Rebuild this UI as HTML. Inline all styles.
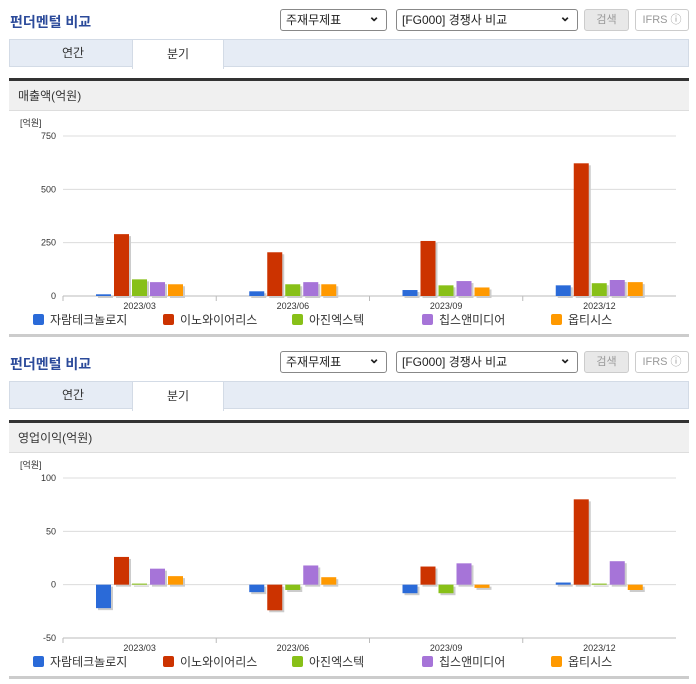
<!DOCTYPE html>
<html><head><meta charset="utf-8">
<style>
body{margin:0;width:696px;height:684px;background:#fff;font-family:"Liberation Sans","Noto Sans CJK KR",sans-serif;overflow:hidden;position:relative}
.blk{position:absolute;left:0;width:696px;height:342px}
.title{position:absolute;left:10px;top:12px;font-size:14px;color:#2b4a9a;font-weight:bold}
.sel{position:absolute;top:9px;height:22px;border:1px solid #888;border-radius:3px;box-sizing:border-box;font-size:12px;line-height:20px;padding-left:5px;color:#222;background:#fff}
.sel:after{content:"⌄";position:absolute;right:6px;top:-4px;font-size:14px;font-weight:bold}
.btn{position:absolute;top:9px;height:22px;box-sizing:border-box;border:1px solid #ccc;border-radius:3px;font-size:11px;line-height:20px;text-align:center;color:#999}
.tabs{position:absolute;left:9px;top:39px;width:680px;height:28px;background:#e6ecf5;border:1px solid #d3dbe6;box-sizing:border-box}
.tab{position:absolute;top:-1px;height:29px;width:90px;text-align:center;font-size:12px;line-height:28px;color:#333}
.bar1{position:absolute;left:9px;top:78px;width:680px;height:3px;background:#333}
.hdr{position:absolute;left:9px;top:81px;width:680px;height:30px;background:#f0f0f0;border-bottom:1px solid #ddd;font-size:12px;line-height:30px;padding-left:9px;box-sizing:border-box;color:#333}
.bot{position:absolute;left:9px;top:334px;width:680px;height:3px;background:#ccc}
svg{position:absolute;left:0;top:0}
</style></head><body>
<div class="blk" style="top:0">
 <div class="title">펀더멘털 비교</div>
 <div class="sel" style="left:280px;width:107px">주재무제표</div>
 <div class="sel" style="left:396px;width:182px">[FG000] 경쟁사 비교</div>
 <div class="btn" style="left:584px;width:45px;background:#e8e8e8">검색</div>
 <div class="btn" style="left:635px;width:54px;background:#fff">IFRS ⓘ</div>
 <div class="tabs">
  <div class="tab" style="left:18px">연간</div>
  <div class="tab" style="left:122px;background:#fff;border:1px solid #d3dbe6;border-bottom:none">분기</div>
 </div>
 <div class="bar1"></div>
 <div class="hdr">매출액(억원)</div>
 <svg id="c1" width="696" height="342"></svg>
 <div class="bot"></div>
</div>
<div class="blk" style="top:342px">
 <div class="title">펀더멘털 비교</div>
 <div class="sel" style="left:280px;width:107px">주재무제표</div>
 <div class="sel" style="left:396px;width:182px">[FG000] 경쟁사 비교</div>
 <div class="btn" style="left:584px;width:45px;background:#e8e8e8">검색</div>
 <div class="btn" style="left:635px;width:54px;background:#fff">IFRS ⓘ</div>
 <div class="tabs">
  <div class="tab" style="left:18px">연간</div>
  <div class="tab" style="left:122px;background:#fff;border:1px solid #d3dbe6;border-bottom:none">분기</div>
 </div>
 <div class="bar1"></div>
 <div class="hdr">영업이익(억원)</div>
 <svg id="c2" width="696" height="342"></svg>
 <div class="bot"></div>
</div>
<script>
const categories=["2023/03","2023/06","2023/09","2023/12"];
const companies=["자람테크놀로지","이노와이어리스","아진엑스텍","칩스앤미디어","옵티시스"];
const colors=["#2a6ad8","#cc3300","#88c018","#a674d8","#ff9900"];
const revenueTicks=[0,250,500,750];
const revJaram=[8,22,28,50];
const revInno=[290,205,258,622];
const revAjin=[78,55,50,60];
const revChips=[65,65,70,75];
const revOpti=[55,55,40,65];
const opTicks=[-50,0,50,100];
const opJaram=[-22,-7,-8,2];
const opInno=[26,-24,17,80];
const opAjin=[1,-5,-8,1];
const opChips=[15,18,20,22];
const opOpti=[8,7,-3,-5];
const NS="http://www.w3.org/2000/svg";
function mk(svg,tag,attrs,txt){const e=document.createElementNS(NS,tag);for(const k in attrs)e.setAttribute(k,attrs[k]);if(txt!==undefined)e.textContent=txt;svg.appendChild(e);return e;}
function draw(id,ticks,series){
 const svg=document.getElementById(id);
 const L=63,R=676,T=136,B=296;
 const mn=ticks[0],mx=ticks[ticks.length-1];
 const y=v=>B-(v-mn)/(mx-mn)*(B-T);
 const gw=(R-L)/categories.length;
 const u=mk(svg,'text',{x:20,y:126,'font-size':9,fill:'#333'},'[억원]');
 
 ticks.forEach(t=>{
  const l=mk(svg,'line',{x1:L,x2:R,y1:y(t),y2:y(t),stroke:'#dcdcdc'});
  
  const tx=mk(svg,'text',{x:56,y:y(t)+3,'font-size':9,fill:'#333','text-anchor':'end'},t);
  
 });
 mk(svg,'line',{x1:L,x2:R,y1:B,y2:B,stroke:'#bbb'});
 categories.forEach((c,i)=>{
  const gx=L+gw*i;
  mk(svg,'line',{x1:gx,x2:gx,y1:B,y2:B+5,stroke:'#bbb'});
  const tx=mk(svg,'text',{x:gx+gw/2,y:B+13,'font-size':9,fill:'#333','text-anchor':'middle'},c);
  
  series.forEach((s,j)=>{
   const v=s[i];const bx=gx+33+j*18;
   const y0=y(0),y1=y(v);const top=Math.min(y0,y1),h=Math.max(1,Math.abs(y1-y0));
   mk(svg,'rect',{x:bx+2,y:top+2,width:15,height:h,fill:'#ccc'});
   const r=mk(svg,'rect',{x:bx,y:top,width:15,height:h,fill:colors[j]});
   
   
  });
 });
 const lx=[33,163,292,422,551];
 companies.forEach((n,j)=>{
  const r=mk(svg,'rect',{x:lx[j],y:314,width:11,height:11,rx:2,fill:colors[j]});
  
  const t=mk(svg,'text',{x:lx[j]+17,y:324,'font-size':12,fill:'#333'},n);
  
 });
}
draw('c1',revenueTicks,[revJaram,revInno,revAjin,revChips,revOpti]);
draw('c2',opTicks,[opJaram,opInno,opAjin,opChips,opOpti]);
</script>
</body></html>
